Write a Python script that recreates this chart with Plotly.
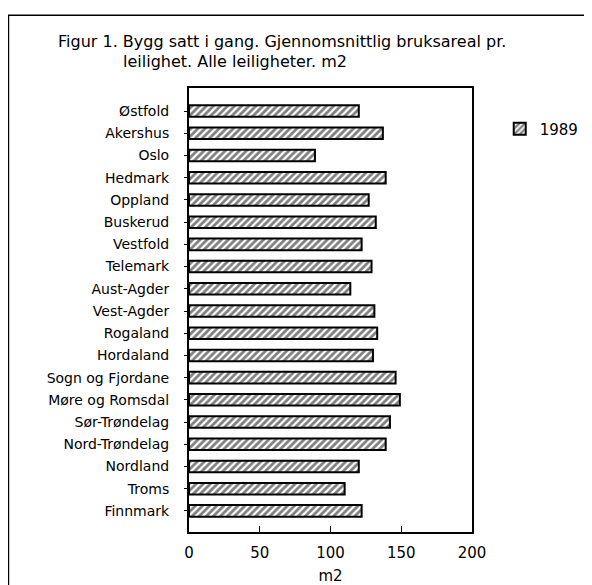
import plotly.graph_objects as go

regions = ["Østfold", "Akershus", "Oslo", "Hedmark", "Oppland", "Buskerud",
           "Vestfold", "Telemark", "Aust-Agder", "Vest-Agder", "Rogaland",
           "Hordaland", "Sogn og Fjordane", "Møre og Romsdal", "Sør-Trøndelag",
           "Nord-Trøndelag", "Nordland", "Troms", "Finnmark"]
values_1989 = [120, 137, 89, 139, 127, 132, 122, 129, 114, 131, 133, 130,
               146, 149, 142, 139, 120, 110, 122]
x_ticks = [0, 50, 100, 150, 200]

FONT = "DejaVu Sans"

fig = go.Figure()
fig.add_trace(go.Bar(
    y=regions, x=values_1989, orientation="h", name="1989", width=0.52,
    marker=dict(color="white",
                line=dict(color="black", width=2),
                pattern=dict(shape="/", fgcolor="black", bgcolor="white",
                             size=5, solidity=0.55)),
))

fig.update_layout(
    width=592, height=585,
    margin=dict(l=181, r=128, t=80, b=61),
    paper_bgcolor="white", plot_bgcolor="white",
    font=dict(family=FONT, color="black", size=13),
    showlegend=True,
    legend=dict(x=1.098, y=0.945, xanchor="left", yanchor="top",
                font=dict(size=15), bgcolor="rgba(0,0,0,0)"),
    bargap=0.4,
)
fig.update_xaxes(range=[0, 200], tickvals=x_ticks, ticks="inside", ticklen=6,
                 tickcolor="black", showline=True, linecolor="black", linewidth=2,
                 mirror=True, showgrid=False, zeroline=False,
                 tickfont=dict(size=15), ticklabelstandoff=6,
                 title=dict(text="m2", font=dict(size=15), standoff=9))
fig.update_yaxes(categoryorder="array", categoryarray=regions,
                 range=[18.95, -1.04], ticks="outside", ticklen=3,
                 tickcolor="black", showline=True, linecolor="black", linewidth=2,
                 mirror=True, showgrid=False, tickfont=dict(size=14),
                 ticklabelstandoff=12)

fig.add_annotation(xref="paper", yref="paper", x=-0.47, y=1.105,
                   xanchor="left", yanchor="middle", showarrow=False,
                   text="Figur 1. Bygg satt i gang. Gjennomsnittlig bruksareal pr.",
                   font=dict(size=16))
fig.add_annotation(xref="paper", yref="paper", x=-0.24, y=1.059,
                   xanchor="left", yanchor="middle", showarrow=False,
                   text="leilighet. Alle leiligheter. m2",
                   font=dict(size=16))
# outer frame
fig.add_shape(type="rect", xref="paper", yref="paper",
              x0=-0.638, x1=1.406, y0=-0.2, y1=1.164,
              line=dict(color="black", width=1.5))

fig.write_html("out.html")
